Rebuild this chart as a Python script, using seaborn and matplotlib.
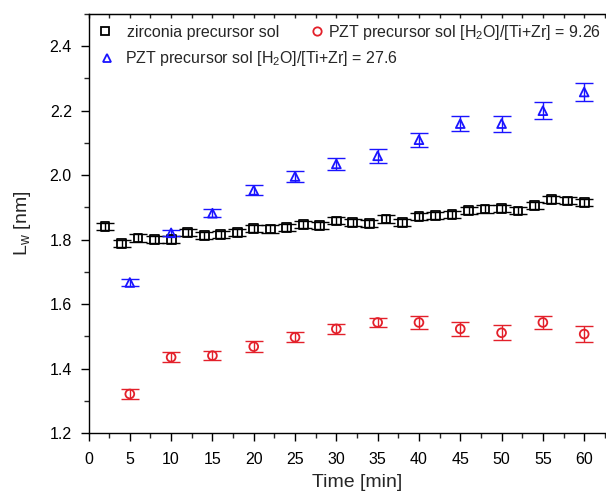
import numpy as np
import pandas as pd
import matplotlib
matplotlib.use("Agg")
import matplotlib.pyplot as plt
from matplotlib.lines import Line2D
from matplotlib.ticker import MultipleLocator, FixedLocator, FormatStrFormatter
import seaborn as sns

# Zirconia precursor sol, every 2 min
t_zr = [2, 4, 6, 8, 10, 12, 14, 16, 18, 20, 22, 24, 26, 28, 30,
        32, 34, 36, 38, 40, 42, 44, 46, 48, 50, 52, 54, 56, 58, 60]
lw_zr = [1.841, 1.789, 1.805, 1.801, 1.801, 1.822, 1.812, 1.815, 1.823, 1.834,
         1.833, 1.838, 1.846, 1.844, 1.858, 1.854, 1.849, 1.864, 1.852, 1.872,
         1.875, 1.879, 1.890, 1.895, 1.897, 1.889, 1.905, 1.924, 1.920, 1.915]
err_zr = [0.011] * 30

# PZT precursor sols, every 5 min
t_pzt = [5, 10, 15, 20, 25, 30, 35, 40, 45, 50, 55, 60]
lw_926 = [1.321, 1.435, 1.440, 1.468, 1.497, 1.523, 1.543, 1.543, 1.523, 1.511, 1.543, 1.507]
err_926 = [0.016, 0.015, 0.015, 0.017, 0.016, 0.015, 0.015, 0.019, 0.021, 0.023, 0.020, 0.024]
lw_276 = [1.667, 1.821, 1.882, 1.953, 1.996, 2.035, 2.060, 2.110, 2.160, 2.160, 2.200, 2.258]
err_276 = [0.010, 0.010, 0.012, 0.015, 0.017, 0.018, 0.021, 0.022, 0.022, 0.025, 0.027, 0.028]

x_ticks = [0, 5, 10, 15, 20, 25, 30, 35, 40, 45, 50, 55, 60]

labels = ["zirconia precursor sol",
          "PZT precursor sol [H$_2$O]/[Ti+Zr] = 9.26",
          "PZT precursor sol [H$_2$O]/[Ti+Zr] = 27.6"]
colors = ["#000000", "#e3202a", "#1a14ff"]
markers = ["s", "o", "^"]

sns.set_style("ticks")
plt.rcParams["font.family"] = ["Liberation Sans", "DejaVu Sans"]
plt.rcParams["mathtext.fontset"] = "custom"
plt.rcParams["mathtext.rm"] = "Liberation Sans"
plt.rcParams["mathtext.it"] = "Liberation Sans:italic"
plt.rcParams["mathtext.bf"] = "Liberation Sans:bold"

fig = plt.figure(figsize=(6.06, 4.98), dpi=100)
ax = fig.add_axes([88.5 / 606, 65 / 498, 537 / 606, 419 / 498])

series = [
    (t_zr, lw_zr, err_zr),
    (t_pzt, lw_926, err_926),
    (t_pzt, lw_276, err_276),
]

for (t, y, e), lab, col, mk in zip(series, labels, colors, markers):
    df = pd.DataFrame({"t": t, "lw": y})
    ax.errorbar(df["t"], df["lw"], yerr=e, fmt="none", ecolor=col,
                elinewidth=1.0, capsize=6.5, capthick=1.0, zorder=2)
    sns.scatterplot(data=df, x="t", y="lw", marker=mk, s=40,
                    facecolor="none", edgecolor=col, linewidth=1.3,
                    ax=ax, zorder=3, legend=False)

ax.set_xlim(0, 65)
ax.set_ylim(1.2, 2.5)
ax.xaxis.set_major_locator(FixedLocator(x_ticks))
ax.xaxis.set_minor_locator(MultipleLocator(2.5))
ax.yaxis.set_major_locator(MultipleLocator(0.2))
ax.yaxis.set_minor_locator(MultipleLocator(0.1))
ax.yaxis.set_major_formatter(FormatStrFormatter("%.1f"))

for s in ax.spines.values():
    s.set_linewidth(1.0)
    s.set_color("black")

ax.tick_params(axis="both", which="major", direction="out", length=6,
               width=1.0, labelsize=11.5, colors="black")
ax.tick_params(axis="both", which="minor", direction="out", length=3.5, width=1.0)
ax.tick_params(axis="x", which="major", pad=8)
ax.tick_params(axis="y", which="major", pad=6)

# short inward ticks along the top edge
top = ax.secondary_xaxis("top")
top.xaxis.set_major_locator(FixedLocator(x_ticks))
top.xaxis.set_minor_locator(MultipleLocator(2.5))
top.tick_params(which="both", direction="in", length=3, width=1.0,
                labeltop=False)

ax.set_xlabel("Time [min]", fontsize=14, labelpad=5)
ax.set_ylabel("L$_\\mathrm{w}$ [nm]", fontsize=14, labelpad=12)

def handle(i):
    return Line2D([], [], linestyle="none", marker=markers[i], markersize=6,
                  markerfacecolor="none", markeredgecolor=colors[i],
                  markeredgewidth=1.3)

legend_spots = [
    ((97 / 606, 1 - 32 / 498), 0.9),
    ((309 / 606, 1 - 32 / 498), 0.2),
    ((99 / 606, 1 - 59 / 498), 0.6),
]
for i, (anchor, gap) in enumerate(legend_spots):
    fig.legend([handle(i)], [labels[i]], loc="center left",
               bbox_to_anchor=anchor, frameon=False, fontsize=11.5,
               handlelength=1.0, handletextpad=gap, borderpad=0,
               borderaxespad=0)

fig.savefig("out.png", dpi=100)
